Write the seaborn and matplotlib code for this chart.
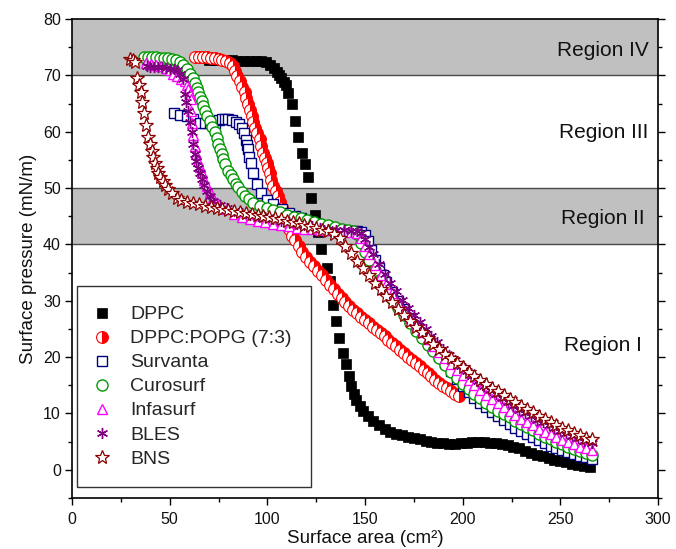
import matplotlib
matplotlib.use("Agg")
import matplotlib.pyplot as plt
import seaborn as sns
from matplotlib.ticker import MultipleLocator

sns.set_theme(style="ticks")
plt.rcParams['font.family'] = ['Liberation Sans', 'DejaVu Sans']

# ---------------- data (surface area cm^2, surface pressure mN/m) ----------------
dppc_area = [70, 73, 76, 79, 82, 85, 88, 91, 94, 97, 99.5, 101.5, 103.2, 104.7, 106, 107.2, 108.5,
             109.8, 110.8, 112.4, 114, 115.8, 117.5, 119.2, 120.9, 122.6, 124.3, 126, 127.7, 130.3,
             132, 133.7, 135, 136.7, 138.5, 140.2, 141.8, 143, 144.3, 145.6, 147.3, 149, 151.5, 154,
             157, 160, 163, 166, 169, 172, 175, 178, 181, 184, 187, 190, 193, 196, 199, 202, 205,
             208, 211, 214, 217, 220, 223, 226, 229, 232, 235, 238, 241, 244, 247, 250, 253, 256,
             259, 262, 265]
dppc_pi = [72.8, 72.8, 72.7, 72.7, 72.7, 72.6, 72.6, 72.6, 72.6, 72.5, 72.3, 71.9, 71.3, 70.6, 70.0,
           69.5, 68.9, 68.2, 66.8, 64.9, 61.9, 59.0, 56.3, 54.2, 51.9, 48.3, 45.3, 42.2, 39.1, 35.9,
           33.5, 29.3, 26.4, 23.4, 20.7, 18.7, 16.6, 14.8, 13.5, 12.4, 11.3, 10.4, 9.5, 8.7, 7.9,
           7.3, 6.8, 6.4, 6.1, 5.8, 5.6, 5.4, 5.2, 5.0, 4.8, 4.7, 4.6, 4.6, 4.7, 4.8, 5.0, 4.9, 4.9,
           4.8, 4.7, 4.6, 4.4, 4.1, 3.8, 3.4, 3.0, 2.7, 2.4, 2.1, 1.8, 1.6, 1.3, 1.1, 0.9, 0.7, 0.5]

popg_area = [63, 65, 67, 69, 71, 73, 75, 77, 79, 80.8, 82.2, 83.4, 84.7, 85.9, 87.2, 88.5, 89.3, 90.2,
             91.0, 91.9, 92.7, 93.6, 94.9, 96.2, 97.0, 97.9, 98.7, 99.6, 100.4, 101.3, 102.1, 103.0,
             104.2, 105.5, 106.4, 107.3, 108.5, 109.8, 111, 112.4, 114, 116, 118, 120, 122, 124, 126,
             128, 130, 132, 134, 136, 138, 140, 142, 144, 146, 148, 150, 152, 154, 156, 158, 160,
             162, 164, 166, 168, 170, 172, 174, 176, 178, 180, 182, 184, 186, 188, 190, 192, 194,
             196, 198]
popg_pi = [73.3, 73.3, 73.3, 73.2, 73.1, 73.0, 72.9, 72.7, 72.5, 72.2, 71.6, 70.8, 69.9, 69.0, 68.0,
           67.0, 66.0, 64.9, 63.9, 62.8, 61.8, 60.7, 59.7, 58.7, 57.5, 56.3, 55.4, 54.5, 53.6, 52.7,
           51.5, 50.4, 49.5, 48.6, 47.5, 46.5, 45.3, 44.1, 42.8, 41.5, 40.7, 39.7, 38.7, 37.8, 36.9,
           36.1, 35.3, 34.5, 33.7, 32.8, 32.0, 31.2, 30.5, 29.8, 29.1, 28.4, 27.8, 27.2, 26.6, 26.0,
           25.4, 24.9, 24.3, 23.7, 23.1, 22.5, 21.9, 21.3, 20.7, 20.1, 19.5, 18.9, 18.4, 17.8, 17.2,
           16.6, 16.0, 15.4, 14.9, 14.5, 14.0, 13.5, 13.1]

survanta_area = [52.2, 55.2, 58.7, 62, 65.5, 68, 70.6, 73, 75, 76.6, 78.3, 80, 82, 84.2, 85.5, 86.8,
                 88, 89, 89.6, 90.2, 90.8, 91.4, 92.7, 94.8, 97, 99.6, 103, 107.3, 111, 114, 117,
                 120, 123, 126, 129, 132, 135, 138, 141, 144, 146, 148, 150, 151.5, 153, 155, 157,
                 159, 161, 164, 167, 170, 173, 176, 179, 182, 185, 188, 191, 194, 197, 200, 203,
                 206, 209, 212, 215, 218, 221, 224, 227, 230, 233, 236, 239, 242, 245, 248, 251,
                 254, 257, 260, 263, 266]
survanta_pi = [63.4, 62.9, 62.7, 62.2, 61.6, 61.5, 61.5, 61.6, 62.0, 62.3, 62.3, 62.2, 62.0, 61.8,
               61.3, 60.6, 59.8, 58.5, 57.6, 56.9, 55.6, 54.4, 52.7, 50.8, 49.1, 47.9, 47.1, 46.2,
               45.6, 45.1, 44.7, 44.3, 43.9, 43.6, 43.3, 43.0, 42.8, 42.6, 42.4, 42.3, 42.3, 42.2,
               41.6, 40.6, 39.0, 37.3, 35.8, 34.5, 33.3, 31.6, 30.0, 28.5, 27.0, 25.6, 24.2, 22.9,
               21.6, 20.2, 18.9, 17.6, 16.2, 14.9, 13.8, 12.8, 11.9, 11.1, 10.3, 9.6, 8.9, 8.2, 7.5,
               6.9, 6.4, 5.8, 5.3, 4.8, 4.3, 3.9, 3.5, 3.1, 2.8, 2.5, 2.2, 1.9]

curosurf_area = [36.8, 39, 41, 43, 45, 47, 49, 51, 53.2, 55.2, 57, 58.7, 60.4, 61.7, 62.9, 63.8, 64.6,
                 65.5, 66.3, 67.2, 68, 69.3, 70.6, 71.8, 73.1, 74, 74.8, 75.7, 76.6, 77.5, 78.3, 80,
                 81.3, 82.5, 83.8, 85.1, 86.8, 88.5, 90.6, 92.7, 96, 99.6, 103, 106.5, 110, 113.5,
                 117, 120.5, 124, 127.5, 131, 134.5, 138, 141.5, 144, 146, 148, 150, 152, 155, 158,
                 161, 164, 167, 170, 173, 176, 179, 182, 185, 188, 191, 194, 197, 200, 203, 206,
                 209, 212, 215, 218, 221, 224, 227, 230, 233, 236, 239, 242, 245, 248, 251, 254,
                 257, 260, 263, 266]
curosurf_pi = [73.2, 73.2, 73.2, 73.2, 73.1, 73.1, 73.0, 72.9, 72.7, 72.3, 71.8, 71.1, 70.3, 69.5,
               68.6, 67.8, 67.0, 66.2, 65.4, 64.6, 63.7, 62.8, 61.9, 60.9, 59.9, 58.9, 57.8, 56.9,
               56.0, 55.1, 54.2, 53.0, 52.3, 51.6, 50.8, 50.1, 49.3, 48.6, 48.0, 47.4, 46.9, 46.5,
               46.1, 45.7, 45.3, 44.9, 44.6, 44.3, 44.0, 43.7, 43.4, 43.1, 42.8, 42.5, 42.3, 41.8,
               40.2, 38.7, 37.3, 35.4, 33.6, 31.9, 30.3, 28.8, 27.4, 26.0, 24.7, 23.4, 22.2, 21.0,
               19.8, 18.6, 17.4, 16.3, 15.3, 14.4, 13.5, 12.7, 11.9, 11.2, 10.5, 9.9, 9.3, 8.7, 8.1,
               7.6, 7.0, 6.4, 5.9, 5.4, 4.9, 4.5, 4.1, 3.7, 3.3, 3.0, 2.7]

infasurf_area = [38, 40.5, 43, 45.5, 48, 50, 51.8, 54, 56, 57.8, 58.8, 59.5, 60.2, 60.7, 61.1, 61.4,
                 62.1, 62.9, 63.7, 64.6, 65.5, 66.3, 67.6, 68.9, 70.6, 72.3, 75.5, 79.1, 83, 87, 91,
                 95, 99, 103, 107, 111, 115, 119, 123, 127, 131, 135, 139, 143, 146, 148, 150, 152,
                 155, 158, 161, 164, 167, 170, 173, 176, 179, 182, 185, 188, 191, 194, 197, 200,
                 203, 206, 209, 212, 215, 218, 221, 224, 227, 230, 233, 236, 239, 242, 245, 248,
                 251, 254, 257, 260, 263, 266]
infasurf_pi = [72.2, 72.0, 71.8, 71.6, 71.3, 70.9, 70.3, 69.8, 69.4, 69.0, 68.3, 67.6, 66.7, 65.8,
               63.7, 61.6, 59.5, 57.5, 56.1, 54.8, 53.7, 52.7, 51.5, 50.4, 49.3, 48.3, 47.2, 46.2,
               45.4, 44.9, 44.5, 44.2, 43.9, 43.6, 43.4, 43.2, 43.0, 42.8, 42.7, 42.6, 42.5, 42.4,
               42.3, 42.2, 42.0, 41.2, 39.7, 38.3, 36.4, 34.6, 32.9, 31.3, 29.8, 28.4, 27.0, 25.7,
               24.4, 23.2, 22.0, 20.9, 19.8, 18.8, 17.8, 16.8, 15.9, 15.0, 14.1, 13.3, 12.5, 11.8,
               11.1, 10.4, 9.7, 9.1, 8.5, 7.9, 7.3, 6.8, 6.3, 5.8, 5.3, 4.9, 4.5, 4.1, 3.8, 3.5]

bles_area = [38.2, 40, 42, 44, 46, 48, 50, 52, 53.5, 55.3, 57, 57.8, 58.6, 59.5, 60.4, 61.2, 62.1,
             62.9, 63.7, 64.6, 65.5, 66.3, 67.6, 68.9, 70.6, 72.3, 75.7, 79.1, 83, 87, 91, 95, 99,
             103, 107, 111, 115, 119, 123, 127, 131, 135, 139, 143, 146, 148, 150, 152, 154, 157,
             160, 163, 166, 169, 172, 175, 178, 181, 184, 187, 190, 193, 196, 199, 202, 205, 208,
             211, 214, 217, 220, 223, 226, 229, 232, 235, 238, 241, 244, 247, 250, 253, 256, 259,
             262, 266]
bles_pi = [71.6, 71.5, 71.5, 71.4, 71.4, 71.3, 71.2, 71.1, 71.0, 70.3, 69.3, 66.7, 65.2, 63.7, 61.8,
           59.9, 57.9, 56.0, 54.8, 53.6, 52.6, 51.6, 50.5, 49.5, 48.6, 47.7, 47.0, 46.5, 46.0, 45.6,
           45.3, 45.0, 44.8, 44.5, 44.2, 43.9, 43.6, 43.4, 43.2, 43.0, 42.8, 42.6, 42.5, 42.4, 42.4,
           42.0, 41.0, 39.6, 38.3, 36.5, 34.8, 33.2, 31.7, 30.2, 28.8, 27.5, 26.2, 25.0, 23.8, 22.6,
           21.5, 20.4, 19.4, 18.4, 17.5, 16.6, 15.7, 14.9, 14.1, 13.4, 12.7, 12.0, 11.3, 10.7, 10.1,
           9.5, 8.9, 8.4, 7.9, 7.4, 6.9, 6.5, 6.0, 5.6, 5.2, 4.7]

bns_area = [29.5, 31, 32.5, 33.5, 34.3, 35.1, 36, 36.8, 37.9, 39.1, 40, 40.8, 41.7, 42.5, 43.4, 44.2,
            45.3, 46.4, 47.8, 49.3, 51, 53.5, 56, 59, 62, 65, 68, 71, 74, 77, 80, 83, 86, 89, 92, 95,
            98, 101, 104, 107, 110, 113, 116, 119, 122, 125, 128, 131, 134, 137, 140, 143, 146, 149,
            152, 155, 158, 161, 164, 167, 170, 173, 176, 179, 182, 185, 188, 191, 194, 197, 200,
            203, 206, 209, 212, 215, 218, 221, 224, 227, 230, 233, 236, 239, 242, 245, 248, 251,
            254, 257, 260, 263, 266]
bns_pi = [72.9, 72.8, 72.3, 69.5, 68.2, 67.0, 65.2, 63.4, 61.2, 59.0, 57.8, 56.6, 55.5, 54.5, 53.5,
          52.7, 52.0, 51.3, 50.5, 49.8, 49.1, 48.3, 47.9, 47.5, 47.3, 47.1, 46.85, 46.7, 46.5, 46.3,
          46.1, 45.9, 45.7, 45.5, 45.35, 45.2, 45.05, 44.9, 44.7, 44.5, 44.2, 44.0, 43.8, 43.5,
          43.2, 42.9, 42.6, 42.3, 41.9, 41.2, 39.8, 38.4, 37.1, 35.8, 34.5, 33.2, 32.0, 30.8, 29.7,
          28.6, 27.5, 26.4, 25.4, 24.4, 23.4, 22.4, 21.4, 20.6, 19.8, 19.0, 18.2, 17.4, 16.7, 16.0,
          15.3, 14.6, 13.9, 13.2, 12.6, 12.0, 11.4, 10.8, 10.2, 9.6, 9.0, 8.5, 8.0, 7.5, 7.0, 6.5,
          6.1, 5.7, 5.4]

series_names = ["DPPC", "DPPC:POPG (7:3)", "Survanta", "Curosurf", "Infasurf", "BLES", "BNS"]
region_labels = ["Region IV", "Region III", "Region II", "Region I"]
region_pi = [74.4, 59.9, 44.6, 22.0]
x_ticks = [0, 50, 100, 150, 200, 250, 300]
y_ticks = [0, 10, 20, 30, 40, 50, 60, 70, 80]

# ---------------- figure ----------------
fig = plt.figure(figsize=(6.76, 5.49), dpi=100)
ax = fig.add_axes([72 / 676, 51 / 549, 586 / 676, 479 / 549])
ax.set_facecolor("white")

ax.axhspan(40, 50, color="#c0c0c0", lw=0, zorder=0)
ax.axhspan(70, 80, color="#c0c0c0", lw=0, zorder=0)
for yy in (40, 50, 70):
    ax.axhline(yy, color="#4a4a4a", lw=1.0, zorder=0.5)

styles = [
    dict(marker="s", markersize=6.5, color="black", markerfacecolor="black",
         markeredgecolor="black", markeredgewidth=0.5),
    dict(marker="o", markersize=8.5, color="red", markerfacecolor="red",
         markerfacecoloralt="white", fillstyle="right", markeredgecolor="red",
         markeredgewidth=0.8),
    dict(marker="s", markersize=7, color="#000080", markerfacecolor="white",
         markeredgecolor="#000080", markeredgewidth=1.0),
    dict(marker="o", markersize=8, color="#009900", markerfacecolor="white",
         markeredgecolor="#009900", markeredgewidth=1.0),
    dict(marker="^", markersize=7.5, color="#ff00ff", markerfacecolor="white",
         markeredgecolor="#ff00ff", markeredgewidth=1.0),
    dict(marker=(6, 2, 0), markersize=8, color="#800080", markerfacecolor="#800080",
         markeredgecolor="#800080", markeredgewidth=1.0),
    dict(marker="*", markersize=10, color="#8b0000", markerfacecolor="white",
         markeredgecolor="#8b0000", markeredgewidth=0.9),
]
data = [(dppc_area, dppc_pi), (popg_area, popg_pi), (survanta_area, survanta_pi),
        (curosurf_area, curosurf_pi), (infasurf_area, infasurf_pi), (bles_area, bles_pi),
        (bns_area, bns_pi)]

for name, (xa, ya), st in zip(series_names, data, styles):
    sns.lineplot(x=xa, y=ya, ax=ax, estimator=None, sort=False, linestyle="none",
                 label=name, zorder=3, **st)

for lab, yv in zip(region_labels, region_pi):
    ax.text(272, yv, lab, ha="center", va="center", fontsize=15, color="#111111", zorder=4)

ax.set_xlim(0, 300)
ax.set_ylim(-5, 80)
ax.set_xticks(x_ticks)
ax.set_yticks(y_ticks)
ax.xaxis.set_minor_locator(MultipleLocator(25))
ax.yaxis.set_minor_locator(MultipleLocator(5))
ax.tick_params(axis="both", which="major", direction="out", length=5, width=1,
               labelsize=11.5, color="black", labelcolor="#111111", pad=3)
ax.tick_params(axis="x", which="major", pad=5)
ax.tick_params(axis="both", which="minor", direction="out", length=3, width=1, color="black")
ax.tick_params(axis="y", which="both", right=True, labelright=False)
for sp in ax.spines.values():
    sp.set_color("black")
    sp.set_linewidth(1.2)

ax.set_xlabel("Surface area (cm²)", fontsize=13.5, labelpad=2.5, color="#111111")
ax.set_ylabel("Surface pressure (mN/m)", fontsize=13.5, labelpad=4, color="#111111")

leg = ax.legend(loc="lower left", bbox_to_anchor=(0.008, 0.023), borderaxespad=0,
                frameon=True, fancybox=False, edgecolor="#333333", framealpha=1,
                fontsize=14, labelspacing=0.33, handlelength=0.6, handletextpad=1.15,
                borderpad=1.0)
leg.get_frame().set_linewidth(1.0)
leg.set_zorder(5)

fig.savefig("out.png", dpi=100)
